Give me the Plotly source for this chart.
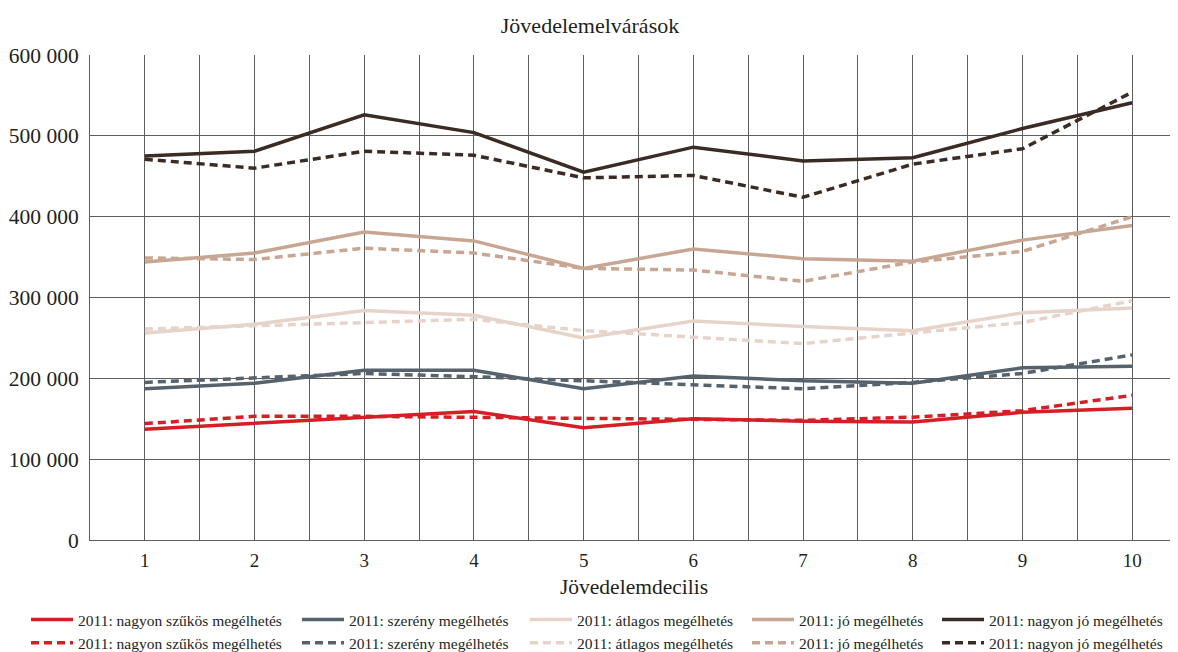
import plotly.graph_objects as go

deciles = [1, 2, 3, 4, 5, 6, 7, 8, 9, 10]

names = ["2011: nagyon szűkös megélhetés", "2011: szerény megélhetés", "2011: átlagos megélhetés",
         "2011: jó megélhetés", "2011: nagyon jó megélhetés"]
colors = ["#d41f26", "#56626c", "#e6d4cb", "#c7a794", "#3b2b25"]

solid_nagyon_szukos = [137000, 144000, 152000, 159000, 139000, 150000, 147000, 146000, 158000, 163000]
solid_szereny = [187000, 194000, 210000, 210000, 187000, 203000, 197000, 194000, 213000, 215000]
solid_atlagos = [256000, 267000, 284000, 278000, 250000, 271000, 264000, 259000, 281000, 287000]
solid_jo = [344000, 355000, 381000, 370000, 336000, 360000, 348000, 345000, 371000, 389000]
solid_nagyon_jo = [475000, 481000, 526000, 504000, 455000, 486000, 469000, 473000, 509000, 541000]

dash_nagyon_szukos = [144000, 153000, 153000, 152000, 150000, 150000, 148000, 152000, 160000, 179000]
dash_szereny = [195000, 200000, 206000, 202000, 197000, 191000, 187000, 195000, 206000, 229000]
dash_atlagos = [261000, 265000, 269000, 273000, 259000, 251000, 243000, 256000, 269000, 296000]
dash_jo = [349000, 347000, 361000, 355000, 336000, 334000, 320000, 344000, 357000, 400000]
dash_nagyon_jo = [471000, 460000, 481000, 476000, 448000, 451000, 424000, 465000, 484000, 554000]

solid_series = [solid_nagyon_szukos, solid_szereny, solid_atlagos, solid_jo, solid_nagyon_jo]
dash_series = [dash_nagyon_szukos, dash_szereny, dash_atlagos, dash_jo, dash_nagyon_jo]

FONT = "Liberation Serif"
OFF = 8  # page body margin in the browser
W, H = 1178 - OFF, 652 - OFF
PL, PT, PH = 90 - OFF, 55 - OFF, 485
PW = W - PL
legend_ids = ["legend", "legend2", "legend3", "legend4", "legend5"]
legend_px = [18, 289, 517, 739, 929]  # left edges of legend columns (figure pixels)
LEGEND_TOP = 595

fig = go.Figure()
for i, (name, col, ys) in enumerate(zip(names, colors, solid_series)):
    fig.add_trace(go.Scatter(x=deciles, y=ys, mode="lines", name=name, legend=legend_ids[i],
                             line=dict(color=col, width=3.5)))
for i, (name, col, ys) in enumerate(zip(names, colors, dash_series)):
    fig.add_trace(go.Scatter(x=deciles, y=ys, mode="lines", name=name, legend=legend_ids[i],
                             line=dict(color=col, width=3.5, dash="8px,5px")))

layout_legends = {}
for i, lid in enumerate(legend_ids):
    layout_legends[lid] = dict(orientation="v", x=(legend_px[i] - PL) / PW, xanchor="left",
                               y=-(LEGEND_TOP - (PT + PH)) / PH, yanchor="top", traceorder="normal",
                               font=dict(size=15.5, family=FONT, color="#231f20"), itemwidth=42,
                               tracegroupgap=0, bgcolor="rgba(0,0,0,0)")

fig.update_layout(
    width=W, height=H,
    margin=dict(l=PL, r=0, t=PT, b=H - PT - PH, autoexpand=False),
    paper_bgcolor="white", plot_bgcolor="white",
    font=dict(family=FONT, color="#231f20", size=19),
    separators=". ",
    title=dict(text="Jövedelemelvárások", x=(590 - OFF) / W, xanchor="center", y=1 - 17 / H,
               yanchor="middle", font=dict(size=22, family=FONT)),
    showlegend=True,
    **layout_legends,
)
fig.update_xaxes(range=[0.5, 0.5 + PW / 109.7], tickvals=deciles, showgrid=True, gridcolor="#5e5e5e",
                 gridwidth=1,
                 minor=dict(dtick=0.5, tick0=0.5, showgrid=True, gridcolor="#5e5e5e", gridwidth=1),
                 showline=True, linecolor="#5e5e5e", linewidth=1, zeroline=False, automargin=False,
                 ticks="", tickfont=dict(size=19), ticklabelstandoff=3,
                 title=dict(text="Jövedelemdecilis", font=dict(size=21.5), standoff=9))
fig.update_yaxes(range=[0, 600000], dtick=100000, tickformat=",d", showgrid=True, automargin=False,
                 gridcolor="#5e5e5e", gridwidth=1, showline=True, linecolor="#5e5e5e", linewidth=1,
                 zeroline=False, ticks="", tickfont=dict(size=21.5), ticklabelstandoff=6)

fig.write_html("out.html")
